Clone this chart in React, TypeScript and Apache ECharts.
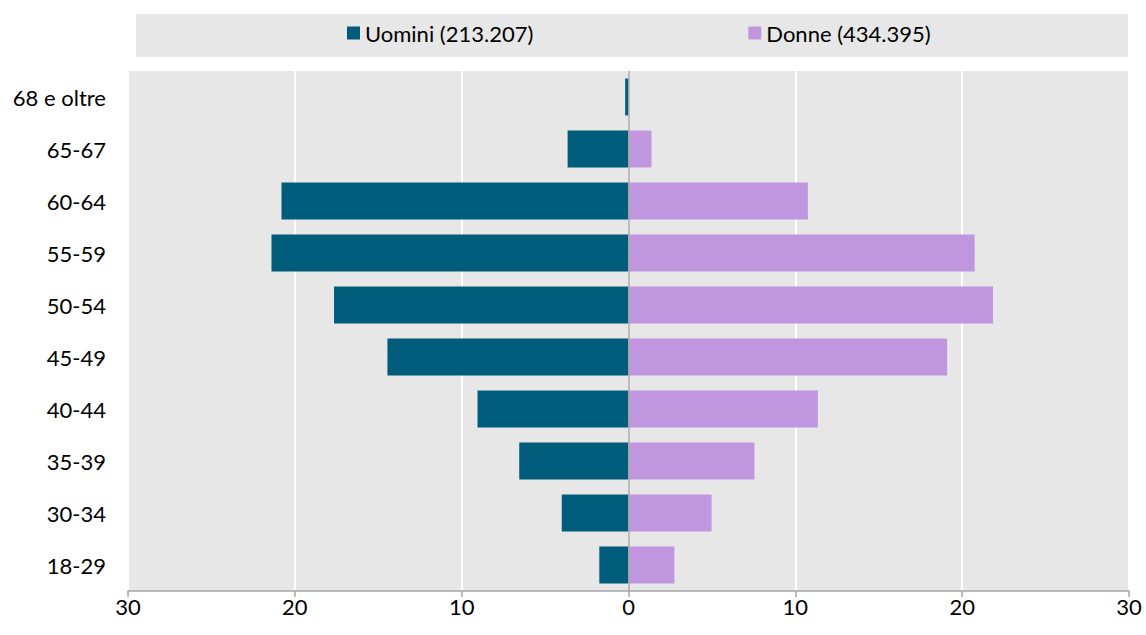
import React, { useEffect, useRef } from "react";
import * as echarts from "echarts";

const categories = ["18-29", "30-34", "35-39", "40-44", "45-49", "50-54", "55-59", "60-64", "65-67", "68 e oltre"];
const men = [1.75, 4.0, 6.55, 9.05, 14.45, 17.65, 21.4, 20.8, 3.65, 0.2];
const women = [2.75, 4.98, 7.55, 11.35, 19.1, 21.85, 20.75, 10.75, 1.38, 0];
const menName = "Uomini (213.207)";
const womenName = "Donne (434.395)";
const xTicks = { min: -30, max: 30, interval: 10 };

const FONT = "Lato, 'Open Sans', sans-serif";

export default function App() {
  const ref = useRef<HTMLDivElement>(null);
  useEffect(() => {
    document.body.style.margin = "0";
    document.documentElement.style.overflow = "hidden";
    if (!ref.current) return;
    const chart = echarts.init(ref.current, null, { renderer: "svg" });
    chart.setOption({
      animation: false,
      backgroundColor: "#ffffff",
      textStyle: { fontFamily: FONT },
      graphic: [
        {
          type: "rect",
          z: -1,
          shape: { x: 136, y: 14, width: 992, height: 43 },
          style: { fill: "#e7e7e7" },
        },
      ],
      legend: {
        left: 347,
        top: 22,
        padding: 0,
        itemGap: 215,
        itemWidth: 13,
        itemHeight: 13,
        icon: "rect",
        textStyle: { fontSize: 22, color: "#000", fontFamily: FONT },
        data: [menName, womenName],
      },
      grid: { left: 128, right: 17, top: 71, bottom: 44, show: true, backgroundColor: "#e7e7e7", borderWidth: 0 },
      xAxis: {
        type: "value",
        min: xTicks.min,
        max: xTicks.max,
        interval: xTicks.interval,
        axisLine: { show: true, lineStyle: { color: "#a6a6a6", width: 1.5 } },
        axisTick: { show: true, length: 6, lineStyle: { color: "#a6a6a6", width: 1.5 } },
        splitLine: { show: true, lineStyle: { color: "#ffffff", width: 2 } },
        axisLabel: {
          fontSize: 22,
          color: "#000",
          margin: 4,
          fontFamily: FONT,
          formatter: (v: number) => String(Math.abs(v)),
        },
      },
      yAxis: {
        type: "category",
        data: categories,
        axisLine: { show: false },
        axisTick: { show: false },
        splitLine: { show: false },
        axisLabel: { fontSize: 22, color: "#000", margin: 22, fontFamily: FONT },
      },
      series: [
        {
          name: menName,
          type: "bar",
          stack: "total",
          barCategoryGap: "29%",
          itemStyle: { color: "#005c7b" },
          data: men.map((v) => -v),
          markLine: {
            silent: true,
            symbol: "none",
            label: { show: false },
            lineStyle: { color: "#a6a6a6", width: 1.5, type: "solid" },
            data: [{ xAxis: 0 }],
          },
        },
        {
          name: womenName,
          type: "bar",
          stack: "total",
          barCategoryGap: "29%",
          itemStyle: { color: "#c097df" },
          data: women,
        },
      ],
    });
    return () => chart.dispose();
  }, []);
  return <div ref={ref} style={{ width: 1146, height: 635 }} />;
}
